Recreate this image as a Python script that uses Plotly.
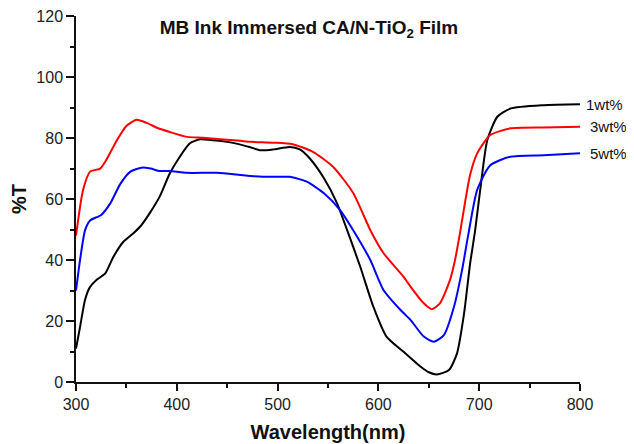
import plotly.graph_objects as go

# ---- data ----
wl_1wt = [300, 304, 309, 314, 320, 329, 337, 347, 357, 365, 373, 383, 393, 403, 413, 423, 436, 453, 473, 483, 496, 512, 522, 532, 546, 559, 569, 582, 595, 608, 625, 642, 650, 658, 670, 678, 685, 691, 696, 701, 708, 718, 731, 764, 800]
t_1wt = [11, 18, 27, 31.2, 33.4, 35.6, 41, 46, 48.8, 51.5, 55.3, 60.8, 68.4, 73.9, 78.3, 79.6, 79.3, 78.6, 77, 76, 76.3, 77.1, 76.3, 73.3, 66.8, 58.6, 49.8, 37.8, 24.7, 14.9, 9.9, 5, 3.2, 2.5, 3.9, 9.4, 22.5, 38.9, 49.8, 63, 79.3, 87, 89.7, 90.8, 91.1]

wl_3wt = [300, 307, 314, 324, 330, 340, 350, 360, 370, 381, 393, 410, 426, 443, 463, 473, 496, 515, 535, 555, 575, 592, 605, 625, 632, 645, 653, 661, 671, 676, 681, 686, 691, 698, 711, 731, 764, 800]
t_3wt = [48, 63, 69, 70, 72.8, 79, 84, 86, 85, 83.3, 82, 80.4, 80.1, 79.6, 79.1, 78.8, 78.5, 78, 75.5, 70.6, 62, 49.8, 42.3, 34.5, 31.2, 25.8, 23.9, 25.8, 33.4, 40, 49, 59, 68, 75, 81, 83.2, 83.5, 83.7]

wl_5wt = [300, 304, 309, 314, 325, 334, 344, 354, 365, 374, 383, 393, 410, 440, 463, 473, 496, 512, 529, 546, 562, 575, 592, 605, 622, 632, 645, 655, 665, 675, 683, 689, 698, 711, 731, 764, 800]
t_5wt = [30, 40, 49.8, 53, 54.8, 58.6, 65, 69, 70.3, 70, 69.2, 69.2, 68.6, 68.6, 67.9, 67.6, 67.3, 67.3, 65.7, 61.9, 56.4, 49.8, 40, 30.2, 23.6, 20.3, 14.9, 13.2, 15.4, 24.7, 36.7, 48, 63, 71.1, 73.9, 74.4, 75]

series_names = ["1wt%", "3wt%", "5wt%"]
series_colors = ["#000000", "#ff0000", "#0000ff"]

x_ticks = [300, 400, 500, 600, 700, 800]
y_ticks = [0, 20, 40, 60, 80, 100, 120]

FONT = "Arial, Liberation Sans, sans-serif"

# the page body adds an 8px offset; the figure is sized to compensate
W, H, OFF = 626, 436, 8

fig = go.Figure()
for wl, t, name, col in zip([wl_1wt, wl_3wt, wl_5wt], [t_1wt, t_3wt, t_5wt], series_names, series_colors):
    fig.add_trace(go.Scatter(x=wl, y=t, mode="lines", name=name,
                             line=dict(color=col, width=2, shape="spline", smoothing=0.6),
                             showlegend=False, cliponaxis=False))
    fig.add_annotation(x=wl[-1], y=t[-1], xref="x", yref="y", text=name,
                       showarrow=False, xanchor="left", yanchor="middle",
                       xshift=4 if name == "1wt%" else 8,
                       font=dict(family=FONT, size=15, color="#111111"))

fig.update_layout(
    width=W, height=H,
    margin=dict(l=76 - OFF, r=54, t=16 - OFF, b=62, autoexpand=False),
    paper_bgcolor="white", plot_bgcolor="white",
    title=dict(text="MB Ink Immersed CA/N-TiO<sub>2</sub> Film",
               x=(309 - OFF) / W, xref="container", xanchor="center",
               y=1 - (27 - OFF) / H, yref="container", yanchor="middle",
               font=dict(family=FONT, size=19, color="#111111", weight="bold")),
    font=dict(family=FONT, color="#222222"),
)
fig.update_xaxes(range=[300, 800], tickvals=x_ticks, ticktext=[str(v) for v in x_ticks],
                 showline=True, linecolor="#111111", linewidth=1.5,
                 ticks="outside", ticklen=7, tickwidth=1.5, tickcolor="#111111",
                 minor=dict(ticks="outside", ticklen=4, dtick=50, tickwidth=1.5, tickcolor="#111111", showgrid=False),
                 showgrid=False, zeroline=False, mirror=False, automargin=False,
                 ticklabeloverflow="allow",
                 tickfont=dict(family=FONT, size=16, color="#222222"),
                 title=dict(text="Wavelength(nm)", standoff=13,
                            font=dict(family=FONT, size=20, color="#111111", weight="bold")))
fig.update_yaxes(range=[0, 120.05], tickvals=y_ticks, ticktext=[str(v) for v in y_ticks],
                 showline=True, linecolor="#111111", linewidth=1.5,
                 ticks="outside", ticklen=8, tickwidth=1.5, tickcolor="#111111",
                 minor=dict(ticks="outside", ticklen=4, dtick=10, tickwidth=1.5, tickcolor="#111111", showgrid=False),
                 showgrid=False, zeroline=False, mirror=False, automargin=False,
                 ticklabeloverflow="allow",
                 tickfont=dict(family=FONT, size=16, color="#222222"),
                 title=dict(text="%T", standoff=12,
                            font=dict(family=FONT, size=20, color="#111111", weight="bold")))

fig.write_html("out.html")
